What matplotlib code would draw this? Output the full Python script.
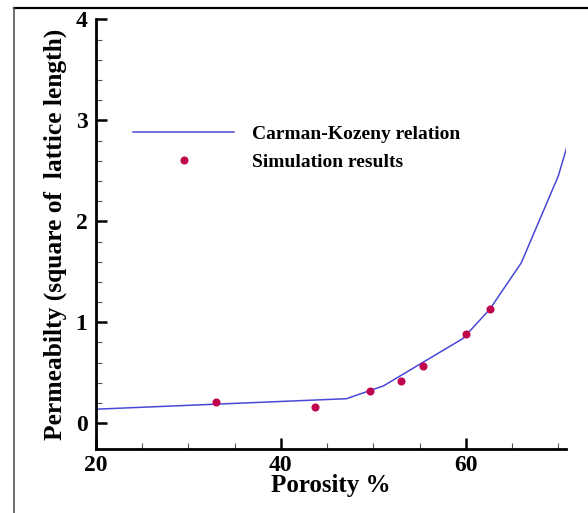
import matplotlib
matplotlib.use("Agg")
import matplotlib.pyplot as plt
from matplotlib.lines import Line2D

# Carman-Kozeny curve (porosity %, permeability)
ck_porosity = [20.0, 47.1, 51.1, 59.7, 62.6, 66.0, 70.0, 70.9]
ck_perm = [0.139, 0.243, 0.37, 0.84, 1.13, 1.59, 2.45, 2.73]

# simulation points
sim_porosity = [33.0, 43.7, 49.6, 53.0, 55.4, 60.0, 62.6]
sim_perm = [0.214, 0.162, 0.323, 0.417, 0.565, 0.883, 1.134]

plt.rcParams['font.family'] = ['Liberation Serif', 'DejaVu Serif']
plt.rcParams['font.weight'] = 'bold'

fig = plt.figure(figsize=(5.88, 5.13), dpi=100)
ax = fig.add_axes([0.1628, 0.1248, 0.7993, 0.8372])

ax.plot(ck_porosity, ck_perm, color="#4848d8", lw=1.1, label="Carman-Kozeny relation")
ax.plot(sim_porosity, sim_perm, 'o', color="#c0044e", ms=4.8, label="Simulation results")

ax.set_xlim(20, 70.8)
ax.set_ylim(-0.255, 4)
ax.set_xticks([20, 40, 60])
ax.set_xticks([25, 30, 35, 45, 50, 55, 65, 70], minor=True)
ax.set_yticks([0, 1, 2, 3, 4])
ax.set_yticks([v / 5 for v in range(1, 20) if v % 5], minor=True)

for s in ['top', 'right']:
    ax.spines[s].set_visible(False)
for s in ['left', 'bottom']:
    ax.spines[s].set_linewidth(2)
ax.tick_params(which='major', direction='in', length=8, width=1.8, labelsize=17)
ax.tick_params(axis='x', which='major', pad=4)
ax.tick_params(axis='y', which='major', pad=6)
ax.tick_params(which='minor', direction='in', length=4, width=0.8, color='#555555')

ax.set_xlabel("Porosity %", fontsize=18, fontweight='bold', labelpad=-1)
ax.set_ylabel("Permeabilty (square of  lattice length)", fontsize=18.4, fontweight='bold', labelpad=6)

ax.legend(loc='upper left', bbox_to_anchor=(0.08, 0.754), frameon=False,
          prop={'size': 14, 'weight': 'bold'}, handlelength=5.2, handletextpad=0.9,
          borderpad=0, borderaxespad=0, labelspacing=0.55)

# outer frame lines of the original figure
fig.add_artist(Line2D([14 / 588, 1], [1 - 7.5 / 513, 1 - 7.5 / 513], transform=fig.transFigure,
                      color='black', lw=1.6))
fig.add_artist(Line2D([14 / 588, 14 / 588], [0, 1 - 7.5 / 513], transform=fig.transFigure,
                      color='#555555', lw=1.2))

fig.savefig("out.png", dpi=100)
